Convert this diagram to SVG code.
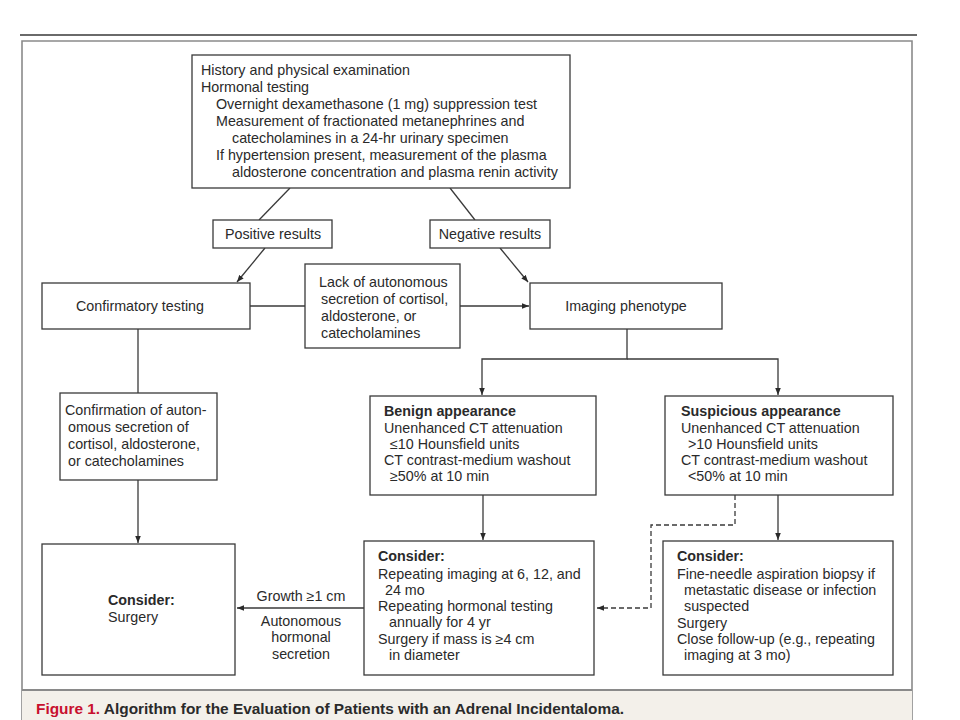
<svg xmlns="http://www.w3.org/2000/svg" width="960" height="720" viewBox="0 0 960 720">
<defs>
<style>
.bx{fill:#fff;stroke:#3a3a3a;stroke-width:1.3}
.t{font-family:"Liberation Sans",Arial,sans-serif;font-size:14.3px;fill:#2a2a2a}
.b{font-weight:bold}
.c{text-anchor:middle}
.ln{fill:none;stroke:#3a3a3a;stroke-width:1.3}
.ds{fill:none;stroke:#3a3a3a;stroke-width:1.3;stroke-dasharray:5,3}
</style>
<marker id="ah" viewBox="0 0 10 10" refX="10" refY="5" markerWidth="7" markerHeight="7" orient="auto" markerUnits="userSpaceOnUse">
<path d="M0,1 L10,5 L0,9 Z" fill="#2a2a2a"/>
</marker>
</defs>
<rect x="0" y="0" width="960" height="720" fill="#fff"/>
<g id="frame">
<line x1="20" y1="35" x2="917" y2="35" stroke="#6a6a6a" stroke-width="2.2"/>
<polyline points="22,720 22,41 912,41 912,720" fill="none" stroke="#8a8a8a" stroke-width="1.6"/>
<rect x="22" y="690" width="890" height="30" fill="#f3f0ea"/>
<line x1="22" y1="690" x2="912" y2="690" stroke="#8a8a8a" stroke-width="1.8"/>
<text x="36" y="714" style="font-family:'Liberation Sans',Arial,sans-serif;font-size:15.4px;font-weight:bold"><tspan fill="#c8102e">Figure 1.</tspan><tspan fill="#2a2a2a"> Algorithm for the Evaluation of Patients with an Adrenal Incidentaloma.</tspan></text>
</g>
<g id="connectors">
<line class="ln" x1="290" y1="188" x2="259" y2="220"/>
<line class="ln" x1="450" y1="188" x2="475" y2="220"/>
<line class="ln" x1="265" y1="248" x2="237" y2="282" marker-end="url(#ah)"/>
<line class="ln" x1="500" y1="248" x2="528" y2="282" marker-end="url(#ah)"/>
<line class="ln" x1="250" y1="306" x2="305" y2="306"/>
<line class="ln" x1="460" y1="306" x2="529" y2="306" marker-end="url(#ah)"/>
<polyline class="ln" points="627,329 627,359 482,359 482,395" marker-end="url(#ah)"/>
<polyline class="ln" points="627,359 778,359 778,395" marker-end="url(#ah)"/>
<line class="ln" x1="138" y1="329" x2="138" y2="393"/>
<line class="ln" x1="138" y1="480" x2="138" y2="543" marker-end="url(#ah)"/>
<line class="ln" x1="483" y1="495" x2="483" y2="540" marker-end="url(#ah)"/>
<line class="ln" x1="778" y1="495" x2="778" y2="540" marker-end="url(#ah)"/>
<line class="ln" x1="364" y1="608" x2="237" y2="608" marker-end="url(#ah)"/>
<polyline class="ds" points="735,495 735,525 651,525 651,608 597,608" marker-end="url(#ah)"/>
<text class="t c" x="301" y="601">Growth ≥1 cm</text>
<text class="t c" x="301" y="626">Autonomous</text>
<text class="t c" x="301" y="642">hormonal</text>
<text class="t c" x="301" y="659">secretion</text>
</g>
<g id="history">
<rect class="bx" x="192" y="55" width="378" height="133"/>
<text class="t" x="201" y="75">History and physical examination</text>
<text class="t" x="201" y="92">Hormonal testing</text>
<text class="t" x="216" y="109">Overnight dexamethasone (1 mg) suppression test</text>
<text class="t" x="216" y="126">Measurement of fractionated metanephrines and</text>
<text class="t" x="232" y="143">catecholamines in a 24-hr urinary specimen</text>
<text class="t" x="216" y="160">If hypertension present, measurement of the plasma</text>
<text class="t" x="232" y="177">aldosterone concentration and plasma renin activity</text>
</g>
<g id="positive">
<rect class="bx" x="213" y="220" width="119" height="28"/>
<text class="t c" x="273" y="239">Positive results</text>
</g>
<g id="negative">
<rect class="bx" x="430" y="220" width="120" height="28"/>
<text class="t c" x="490" y="239">Negative results</text>
</g>
<g id="confirmatory">
<rect class="bx" x="42" y="283" width="208" height="46"/>
<text class="t c" x="140" y="311">Confirmatory testing</text>
</g>
<g id="lack">
<rect class="bx" x="305" y="264" width="155" height="84"/>
<text class="t" x="319" y="287">Lack of autonomous</text>
<text class="t" x="321" y="304">secretion of cortisol,</text>
<text class="t" x="321" y="321">aldosterone, or</text>
<text class="t" x="321" y="338">catecholamines</text>
</g>
<g id="imaging">
<rect class="bx" x="530" y="283" width="192" height="46"/>
<text class="t c" x="626" y="311">Imaging phenotype</text>
</g>
<g id="confirmation">
<rect class="bx" x="60" y="393" width="157" height="87"/>
<text class="t" x="65" y="415">Confirmation of auton-</text>
<text class="t" x="68" y="432">omous secretion of</text>
<text class="t" x="68" y="449">cortisol, aldosterone,</text>
<text class="t" x="68" y="466">or catecholamines</text>
</g>
<g id="benign">
<rect class="bx" x="370" y="396" width="226" height="99"/>
<text class="t b" x="384" y="416">Benign appearance</text>
<text class="t" x="384" y="433">Unenhanced CT attenuation</text>
<text class="t" x="390" y="449">≤10 Hounsfield units</text>
<text class="t" x="384" y="465">CT contrast-medium washout</text>
<text class="t" x="390" y="481">≥50% at 10 min</text>
</g>
<g id="suspicious">
<rect class="bx" x="665" y="396" width="228" height="99"/>
<text class="t b" x="681" y="416">Suspicious appearance</text>
<text class="t" x="681" y="433">Unenhanced CT attenuation</text>
<text class="t" x="688" y="449">&gt;10 Hounsfield units</text>
<text class="t" x="681" y="465">CT contrast-medium washout</text>
<text class="t" x="688" y="481">&lt;50% at 10 min</text>
</g>
<g id="surgery">
<rect class="bx" x="42" y="544" width="193" height="131"/>
<text class="t b" x="108" y="605">Consider:</text>
<text class="t" x="108" y="622">Surgery</text>
</g>
<g id="benign-consider">
<rect class="bx" x="364" y="541" width="230" height="134"/>
<text class="t b" x="378" y="561">Consider:</text>
<text class="t" x="378" y="579">Repeating imaging at 6, 12, and</text>
<text class="t" x="385" y="595">24 mo</text>
<text class="t" x="378" y="611">Repeating hormonal testing</text>
<text class="t" x="389" y="627">annually for 4 yr</text>
<text class="t" x="378" y="644">Surgery if mass is ≥4 cm</text>
<text class="t" x="389" y="660">in diameter</text>
</g>
<g id="suspicious-consider">
<rect class="bx" x="663" y="541" width="230" height="134"/>
<text class="t b" x="677" y="561">Consider:</text>
<text class="t" x="677" y="579">Fine-needle aspiration biopsy if</text>
<text class="t" x="684" y="595">metastatic disease or infection</text>
<text class="t" x="684" y="611">suspected</text>
<text class="t" x="677" y="628">Surgery</text>
<text class="t" x="677" y="644">Close follow-up (e.g., repeating</text>
<text class="t" x="684" y="660">imaging at 3 mo)</text>
</g>
</svg>
